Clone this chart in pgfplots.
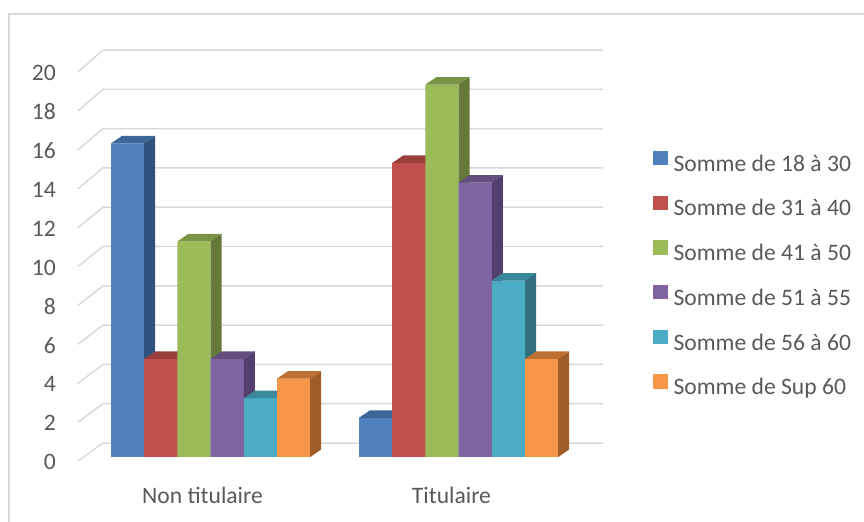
\documentclass[border=0pt]{standalone}
\usepackage{pgfplots}
\pgfplotsset{compat=1.18}
\usepackage{pgfplotstable}
\usepackage{fontspec}
\setmainfont{Carlito}
\definecolor{txt}{HTML}{595959}
\definecolor{gridc}{HTML}{D9D9D9}
\definecolor{fA}{HTML}{4F81BD}\definecolor{tA}{HTML}{3D6699}\definecolor{sA}{HTML}{30527F}
\definecolor{fB}{HTML}{C0504D}\definecolor{tB}{HTML}{9A3E3C}\definecolor{sB}{HTML}{803432}
\definecolor{fC}{HTML}{9BBB59}\definecolor{tC}{HTML}{7A9444}\definecolor{sC}{HTML}{66793A}
\definecolor{fD}{HTML}{8064A2}\definecolor{tD}{HTML}{644E80}\definecolor{sD}{HTML}{533F6E}
\definecolor{fE}{HTML}{4BACC6}\definecolor{tE}{HTML}{3A889C}\definecolor{sE}{HTML}{32707F}
\definecolor{fF}{HTML}{F79646}\definecolor{tF}{HTML}{BD7033}\definecolor{sF}{HTML}{9E5E2B}

% pos = left edge of the group (px), s1..s6 = values of the six series
\pgfplotstableread{
pos s1 s2 s3 s4 s5 s6
111 16 5 11 5 3 4
359 2 15 19 14 9 5
}\data

% faces of the 3D bars, drawn as marks at each bar's top
\pgfdeclareplotmark{top3d}{%
  \pgfpathmoveto{\pgfpoint{-16.6bp}{0bp}}%
  \pgfpathlineto{\pgfpoint{16.6bp}{0bp}}%
  \pgfpathlineto{\pgfpoint{27.6bp}{7.5bp}}%
  \pgfpathlineto{\pgfpoint{-5.6bp}{7.5bp}}%
  \pgfpathclose\pgfusepathqfill}
\pgfdeclareplotmark{side3d}{%
  \pgfpathmoveto{\pgfpoint{16.6bp}{0bp}}%
  \pgfpathlineto{\pgfpoint{27.6bp}{7.5bp}}%
  \pgfpathlineto{\pgfpoint{27.6bp}{7.5bp-\hh bp}}%
  \pgfpathlineto{\pgfpoint{16.6bp}{-\hh bp}}%
  \pgfpathclose\pgfusepathqfill}

\newcommand{\tdbar}[5]{%
  \addplot[fill=#3, draw=none] table[x expr=\thisrow{pos}+#2, y=#1] {\data};
  \addplot[sharp plot, only marks, mark=top3d, mark options={fill=#4, draw=none}, forget plot]
     table[x expr=\thisrow{pos}+#2, y=#1] {\data};
  \addplot[sharp plot, only marks, mark=side3d, mark options={fill=#5, draw=none}, forget plot,
     visualization depends on={\thisrow{#1}*19.6 \as \hh}]
     table[x expr=\thisrow{pos}+#2, y=#1] {\data};
}

\begin{document}
\begin{tikzpicture}
\draw[gridc, line width=1.3bp] (9bp,0bp) -- (9bp,508bp) -- (870bp,508bp);
\begin{axis}[
  at={(60bp,45.4bp)}, anchor=south west,
  scale only axis, width=804bp, height=441bp,
  xmin=60, xmax=864, ymin=-1, ymax=21.5,
  clip=false, clip mode=individual, clip marker paths=true,
  axis line style={draw=none},
  major tick length=0pt, tick style={draw=none},
  ybar, bar width=33.2,
  every axis plot/.append style={/pgf/bar shift=0pt},
  ytick={-0.204,1.781,3.765,5.750,7.735,9.719,11.704,13.689,15.673,17.658,19.643},
  yticklabels={0,2,4,6,8,10,12,14,16,18,20},
  xtick={202.5,451.5},
  xticklabels={Non titulaire,Titulaire},
  /pgf/number format/assume math mode=true,
  tick label style={font=\fontsize{23.6bp}{28bp}\selectfont, text=txt},
  yticklabel style={inner sep=0pt, xshift=-4bp, yshift=-1bp},
  xticklabel style={inner sep=0pt, yshift=-10.5bp},
  legend style={at={(axis cs:653,15.63)}, anchor=north west, draw=none, fill=none,
    inner sep=0pt, row sep=20.3bp, column sep=6bp,
    font=\fontsize{23.6bp}{28bp}\selectfont, text=txt,
    nodes={inner sep=0pt, text height=16bp, text depth=4bp}},
  legend cell align=left,
  legend image code/.code={\fill[#1] (0bp,0bp) rectangle (14.4bp,14.4bp);},
]
% back wall and floor gridlines
\addplot[sharp plot, mark=none, gridc, line width=1.5bp, forget plot] coordinates {(78,-0.204)(103,0.714)(603,0.714)};
\addplot[sharp plot, mark=none, gridc, line width=1.5bp, forget plot] coordinates {(78,1.781)(103,2.719)(603,2.719)};
\addplot[sharp plot, mark=none, gridc, line width=1.5bp, forget plot] coordinates {(78,3.765)(103,4.724)(603,4.724)};
\addplot[sharp plot, mark=none, gridc, line width=1.5bp, forget plot] coordinates {(78,5.750)(103,6.729)(603,6.729)};
\addplot[sharp plot, mark=none, gridc, line width=1.5bp, forget plot] coordinates {(78,7.735)(103,8.734)(603,8.734)};
\addplot[sharp plot, mark=none, gridc, line width=1.5bp, forget plot] coordinates {(78,9.719)(103,10.740)(603,10.740)};
\addplot[sharp plot, mark=none, gridc, line width=1.5bp, forget plot] coordinates {(78,11.704)(103,12.745)(603,12.745)};
\addplot[sharp plot, mark=none, gridc, line width=1.5bp, forget plot] coordinates {(78,13.689)(103,14.750)(603,14.750)};
\addplot[sharp plot, mark=none, gridc, line width=1.5bp, forget plot] coordinates {(78,15.673)(103,16.755)(603,16.755)};
\addplot[sharp plot, mark=none, gridc, line width=1.5bp, forget plot] coordinates {(78,17.658)(103,18.760)(603,18.760)};
\addplot[sharp plot, mark=none, gridc, line width=1.5bp, forget plot] coordinates {(78,19.643)(103,20.765)(603,20.765)};
% bars
\tdbar{s1}{16.6}{fA}{tA}{sA}
\tdbar{s2}{49.8}{fB}{tB}{sB}
\tdbar{s3}{83.0}{fC}{tC}{sC}
\tdbar{s4}{116.2}{fD}{tD}{sD}
\tdbar{s5}{149.4}{fE}{tE}{sE}
\tdbar{s6}{182.6}{fF}{tF}{sF}
\legend{Somme de 18 à 30,Somme de 31 à 40,Somme de 41 à 50,Somme de 51 à 55,Somme de 56 à 60,Somme de Sup 60}
\end{axis}
\pgfresetboundingbox
\path[use as bounding box] (0bp,0bp) rectangle (864bp,522bp);
\end{tikzpicture}
\end{document}
